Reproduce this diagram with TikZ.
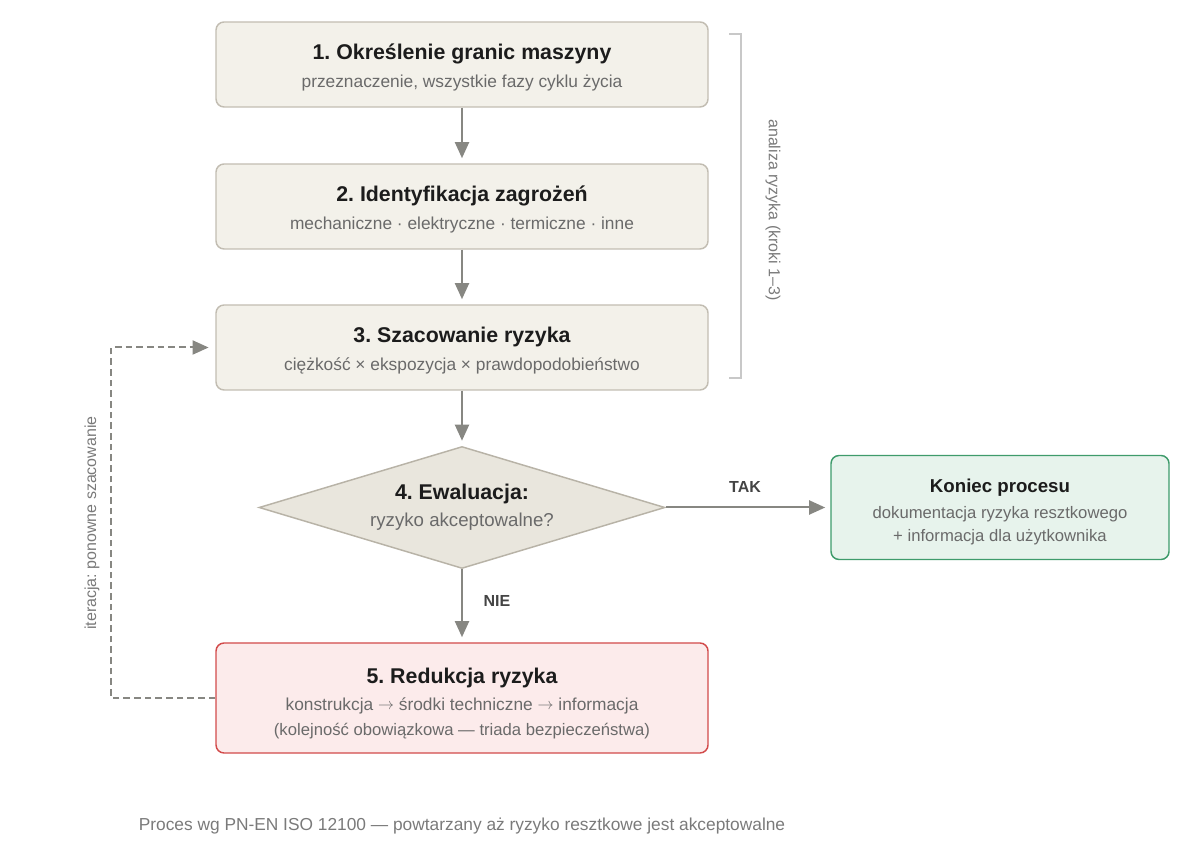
\documentclass[tikz,border=0pt]{standalone}
\usepackage{fontspec}
\setmainfont{Liberation Sans}
\usetikzlibrary{arrows.meta,shapes.geometric}
\frenchspacing
\definecolor{boxfill}{HTML}{F3F1EA}
\definecolor{boxdraw}{HTML}{C2BDB2}
\definecolor{diafill}{HTML}{E9E6DD}
\definecolor{diadraw}{HTML}{B8B3A7}
\definecolor{okfill}{HTML}{E7F3EC}
\definecolor{okdraw}{HTML}{3E9B6B}
\definecolor{redfill}{HTML}{FCEBEB}
\definecolor{reddraw}{HTML}{D24B4B}
\definecolor{arr}{HTML}{878782}
\definecolor{titlec}{HTML}{1C1C1C}
\definecolor{subc}{HTML}{6A6A6A}
\definecolor{lblc}{HTML}{444444}
\definecolor{sidec}{HTML}{7A7A7A}
\definecolor{brk}{HTML}{C8C8C8}
\newcommand\ftitle{\fontsize{16}{19}\selectfont\bfseries\color{titlec}}
\newcommand\fsub{\fontsize{13}{16}\selectfont\color{subc}}
\newcommand\fsmall{\fontsize{12.5}{15}\selectfont\color{subc}}
\newcommand\rarr{\raisebox{0.5pt}{$\rightarrow$}}
\begin{document}
\begin{tikzpicture}[x=0.75pt,y=-0.75pt,
  stepbox/.style={draw=boxdraw,fill=boxfill,rounded corners=6pt,line width=1.1pt,
    minimum width=369pt,minimum height=63.75pt,inner sep=0pt},
  redbox/.style={draw=reddraw,fill=redfill,rounded corners=6pt,line width=1.1pt,
    minimum width=369pt,minimum height=82.5pt,inner sep=0pt},
  okbox/.style={draw=okdraw,fill=okfill,rounded corners=6pt,line width=1.1pt,
    minimum width=253.5pt,minimum height=78pt,inner sep=0pt},
  decision/.style={diamond,draw=diadraw,fill=diafill,line width=1.1pt,
    minimum width=304.5pt,minimum height=91.5pt,inner sep=0pt},
  txt/.style={anchor=base,inner sep=0pt},
  flow/.style={draw=arr,line width=1.5pt,-{Triangle[length=12pt,width=10.5pt]},shorten >=3.8pt},
  loopline/.style={draw=arr,line width=1.5pt,dash pattern=on 5pt off 3pt,
    -{Triangle[length=12pt,width=10.5pt]},shorten >=5pt},
  bracket/.style={draw=brk,line width=1pt},
]
\useasboundingbox (0,0) rectangle (1200,862);

% boxes
\node[stepbox] (b1) at (462,64.5) {};
\node[stepbox] (b2) at (462,206.5) {};
\node[stepbox] (b3) at (462,347.5) {};
\node[decision] (d4) at (462,507.5) {};
\node[okbox] (ok) at (1000,507.5) {};
\node[redbox] (b5) at (462,698) {};

% texts
\node[txt] (t1) at (462,60) {\ftitle 1. Określenie granic maszyny};
\node[txt] (s1) at (462,87.5) {\fsub przeznaczenie, wszystkie fazy cyklu życia};
\node[txt] (t2) at (462,202) {\ftitle 2. Identyfikacja zagrożeń};
\node[txt] (s2) at (462,229.5) {\fsub mechaniczne · elektryczne · termiczne · inne};
\node[txt] (t3) at (462,343) {\ftitle 3. Szacowanie ryzyka};
\node[txt] (s3) at (462,370.5) {\fsub ciężkość × ekspozycja × prawdopodobieństwo};
\node[txt] (t4) at (462,500) {\ftitle 4. Ewaluacja:};
\node[txt] (s4) at (462,527) {\fontsize{14}{17}\selectfont\color{subc}ryzyko akceptowalne?};
\node[txt] (tok) at (1000,493) {\fontsize{14}{17}\selectfont\bfseries\color{titlec}Koniec procesu};
\node[txt] (sok1) at (1000,518.5) {\fsmall dokumentacja ryzyka resztkowego};
\node[txt] (sok2) at (1000,541.5) {\fsmall + informacja dla użytkownika};
\node[txt] (t5) at (462,683) {\ftitle 5. Redukcja ryzyka};
\node[txt] (s5a) at (462,710) {\fsub konstrukcja \rarr{} środki techniczne \rarr{} informacja};
\node[txt] (s5b) at (462,735.5) {\fsmall (kolejność obowiązkowa — triada bezpieczeństwa)};

% flow arrows
\draw[flow] (b1) -- (b2);
\draw[flow] (b2) -- (b3);
\draw[flow] (b3) -- (d4);
\draw[flow] (d4.east) -- (ok.west);
\draw[flow] (d4.south) -- (b5.north);
\node[txt] (tak) at (745,492.5) {\fontsize{12}{14}\selectfont\bfseries\color{lblc}TAK};
\node[txt] (nie) at (497,607) {\fontsize{12}{14}\selectfont\bfseries\color{lblc}NIE};

% iteration loop
\coordinate (lp1) at (111,698);
\coordinate (lp2) at (111,347.5);
\draw[loopline] (b5.west) -- (lp1) -- (lp2) -- (b3.west);
\node[rotate=90,inner sep=0pt] (itl) at (92,523) {\fontsize{12}{14}\selectfont\color{sidec}iteracja: ponowne szacowanie};

% bracket
\coordinate (br1) at (729,34);
\coordinate (br2) at (741,34);
\coordinate (br3) at (741,378);
\coordinate (br4) at (729,378);
\draw[bracket] (br1) -- (br2) -- (br3) -- (br4);
\node[rotate=-90,inner sep=0pt] (anl) at (773,210) {\fontsize{12}{14}\selectfont\color{sidec}analiza ryzyka (kroki 1–3)};

% footer
\node[txt] (foot) at (462,830) {\fontsize{13}{16}\selectfont\color{sidec}Proces wg PN-EN ISO 12100 — powtarzany aż ryzyko resztkowe jest akceptowalne};
\end{tikzpicture}
\end{document}
